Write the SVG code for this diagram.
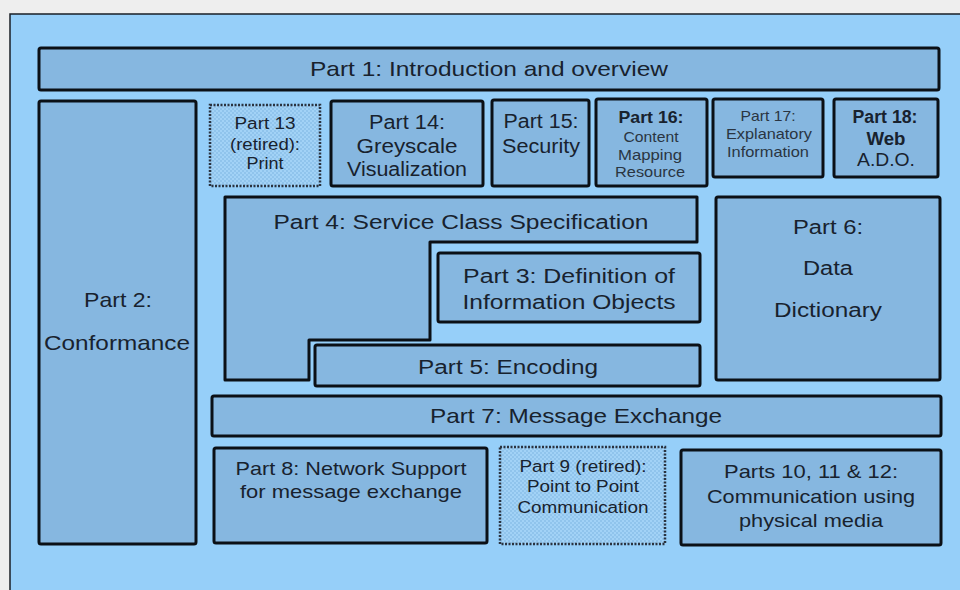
<svg xmlns="http://www.w3.org/2000/svg" width="960" height="590" viewBox="0 0 960 590">
<defs>
<pattern id="chk" width="4" height="4" patternUnits="userSpaceOnUse">
<rect width="4" height="4" fill="#a2d2f6"/>
<rect width="2" height="2" fill="#90c4ec"/>
<rect x="2" y="2" width="2" height="2" fill="#90c4ec"/>
</pattern>
</defs>
<style>
.box{fill:#86b7e0;stroke:#0b1016;stroke-width:3;stroke-linejoin:round}
.ret{fill:url(#chk);stroke:#2a3340;stroke-width:2.5;stroke-dasharray:2 1.5}
text{font-family:"Liberation Sans",Arial,sans-serif;fill:#18222e;text-anchor:middle}
.b{font-weight:bold}
.t{fill:#2a3542}
</style>
<rect x="0" y="0" width="960" height="590" fill="#eeeeee"/>
<rect x="10" y="14" width="960" height="590" fill="#96cff9" stroke="#1a1f26" stroke-width="1.5"/>

<g id="part1"><rect class="box" x="39" y="48" width="900" height="42" rx="2"/>
<text x="489" y="76" font-size="21" textLength="358" lengthAdjust="spacingAndGlyphs">Part 1: Introduction and overview</text></g>

<g id="part2"><rect class="box" x="39" y="101" width="157" height="443" rx="2"/>
<text x="118" y="307" font-size="21" textLength="68" lengthAdjust="spacingAndGlyphs">Part 2:</text>
<text x="117" y="350" font-size="21" textLength="146" lengthAdjust="spacingAndGlyphs">Conformance</text></g>

<g id="part13"><rect class="ret" x="210" y="105" width="110" height="81"/>
<text x="265" y="129" font-size="16" textLength="61" lengthAdjust="spacingAndGlyphs">Part 13</text>
<text x="265" y="150" font-size="16" textLength="70" lengthAdjust="spacingAndGlyphs">(retired):</text>
<text x="265" y="169" font-size="16" textLength="37" lengthAdjust="spacingAndGlyphs">Print</text></g>

<g id="part14"><rect class="box" x="331" y="101" width="152" height="85" rx="2"/>
<text x="407" y="129" font-size="20" textLength="76" lengthAdjust="spacingAndGlyphs">Part 14:</text>
<text x="407" y="153" font-size="20" textLength="101" lengthAdjust="spacingAndGlyphs">Greyscale</text>
<text x="407" y="176" font-size="20" textLength="120" lengthAdjust="spacingAndGlyphs">Visualization</text></g>

<g id="part15"><rect class="box" x="492" y="100" width="97" height="86" rx="2"/>
<text x="541" y="128" font-size="20" textLength="75" lengthAdjust="spacingAndGlyphs">Part 15:</text>
<text x="541" y="153" font-size="20" textLength="78" lengthAdjust="spacingAndGlyphs">Security</text></g>

<g id="part16"><rect class="box" x="596" y="99" width="111" height="87" rx="2"/>
<text class="b" x="651" y="123" font-size="17" textLength="65" lengthAdjust="spacingAndGlyphs">Part 16:</text>
<text class="t" x="651" y="142" font-size="15" textLength="55" lengthAdjust="spacingAndGlyphs">Content</text>
<text class="t" x="650" y="160" font-size="15" textLength="64" lengthAdjust="spacingAndGlyphs">Mapping</text>
<text class="t" x="650" y="177" font-size="15" textLength="70" lengthAdjust="spacingAndGlyphs">Resource</text></g>

<g id="part17"><rect class="box" x="713" y="99" width="110" height="78" rx="2"/>
<text class="t" x="768" y="121" font-size="15" textLength="55" lengthAdjust="spacingAndGlyphs">Part 17:</text>
<text class="t" x="769" y="139" font-size="15" textLength="86" lengthAdjust="spacingAndGlyphs">Explanatory</text>
<text class="t" x="768" y="157" font-size="15" textLength="82" lengthAdjust="spacingAndGlyphs">Information</text></g>

<g id="part18"><rect class="box" x="834" y="99" width="104" height="78" rx="2"/>
<text class="b" x="885" y="123" font-size="18" textLength="65" lengthAdjust="spacingAndGlyphs">Part 18:</text>
<text class="b" x="886" y="145" font-size="18" textLength="39" lengthAdjust="spacingAndGlyphs">Web</text>
<text x="886" y="166" font-size="19" textLength="58" lengthAdjust="spacingAndGlyphs">A.D.O.</text></g>

<g id="part4"><path class="box" d="M225,197 H697 V242 H430 V340 H309 V380 H225 Z"/>
<text x="461" y="229" font-size="20" textLength="375" lengthAdjust="spacingAndGlyphs">Part 4: Service Class Specification</text></g>

<g id="part3"><rect class="box" x="438" y="253" width="262" height="69" rx="2"/>
<text x="569" y="283" font-size="20" textLength="212" lengthAdjust="spacingAndGlyphs">Part 3: Definition of</text>
<text x="569" y="309" font-size="20" textLength="213" lengthAdjust="spacingAndGlyphs">Information Objects</text></g>

<g id="part5"><rect class="box" x="315" y="345" width="385" height="41" rx="2"/>
<text x="508" y="374" font-size="20" textLength="180" lengthAdjust="spacingAndGlyphs">Part 5: Encoding</text></g>

<g id="part6"><rect class="box" x="716" y="197" width="224" height="183" rx="2"/>
<text x="828" y="234" font-size="20" textLength="70" lengthAdjust="spacingAndGlyphs">Part 6:</text>
<text x="828" y="275" font-size="20" textLength="50" lengthAdjust="spacingAndGlyphs">Data</text>
<text x="828" y="317" font-size="20" textLength="108" lengthAdjust="spacingAndGlyphs">Dictionary</text></g>

<g id="part7"><rect class="box" x="212" y="396" width="729" height="40" rx="2"/>
<text x="576" y="423" font-size="21" textLength="292" lengthAdjust="spacingAndGlyphs">Part 7: Message Exchange</text></g>

<g id="part8"><rect class="box" x="214" y="448" width="273" height="95" rx="2"/>
<text x="351" y="475" font-size="19" textLength="231" lengthAdjust="spacingAndGlyphs">Part 8: Network Support</text>
<text x="351" y="498" font-size="19" textLength="222" lengthAdjust="spacingAndGlyphs">for message exchange</text></g>

<g id="part9"><rect class="ret" x="500" y="447" width="165" height="97"/>
<text x="583" y="472" font-size="16" textLength="127" lengthAdjust="spacingAndGlyphs">Part 9 (retired):</text>
<text x="583" y="492" font-size="16" textLength="112" lengthAdjust="spacingAndGlyphs">Point to Point</text>
<text x="583" y="513" font-size="16" textLength="131" lengthAdjust="spacingAndGlyphs">Communication</text></g>

<g id="part10-12"><rect class="box" x="681" y="450" width="260" height="95" rx="2"/>
<text x="811" y="478" font-size="19" textLength="174" lengthAdjust="spacingAndGlyphs">Parts 10, 11 &amp; 12:</text>
<text x="811" y="503" font-size="19" textLength="208" lengthAdjust="spacingAndGlyphs">Communication using</text>
<text x="811" y="527" font-size="19" textLength="144" lengthAdjust="spacingAndGlyphs">physical media</text></g>

<g id="connectors"></g>
</svg>
